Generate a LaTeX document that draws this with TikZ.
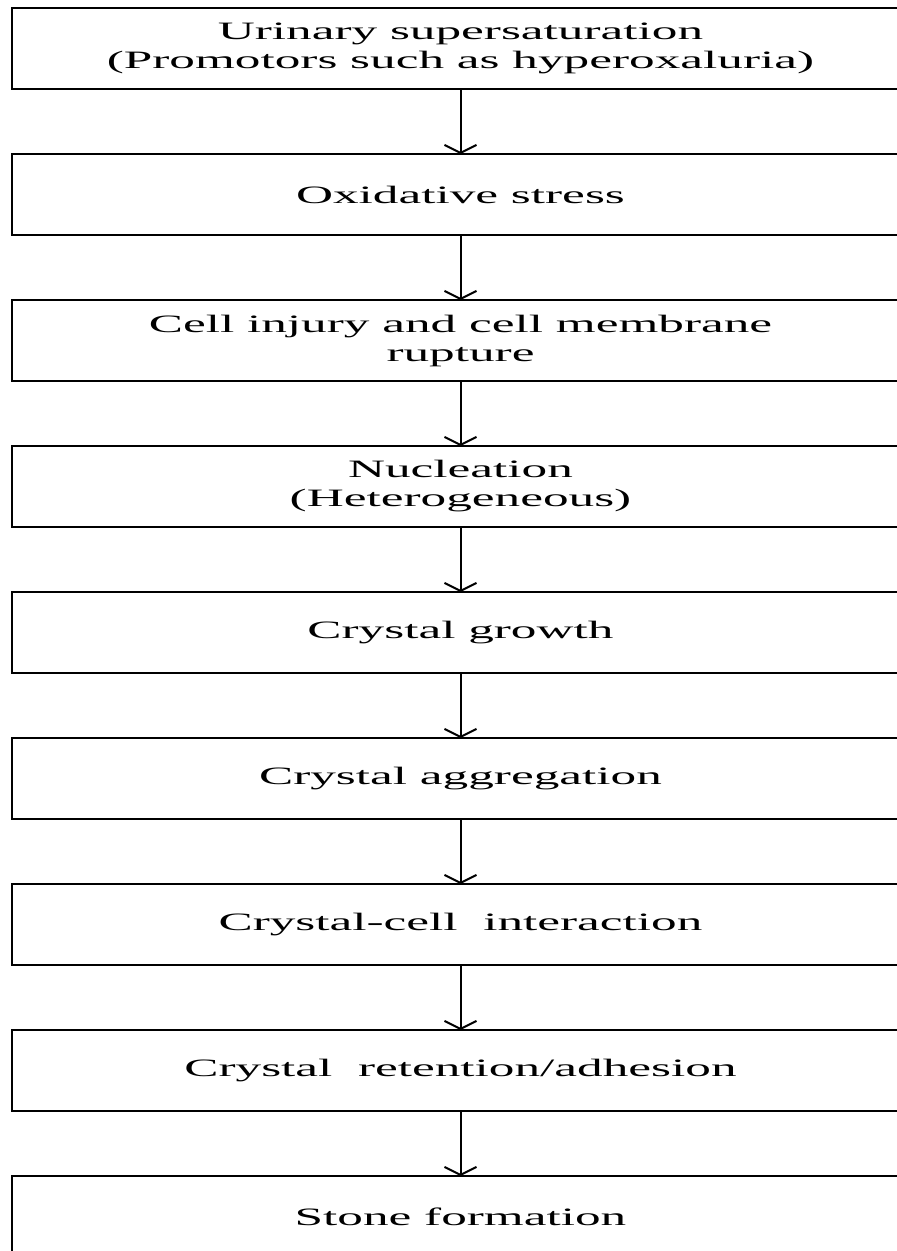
\documentclass[tikz,border=0pt]{standalone}
\usepackage{fontspec}
\setmainfont[FakeStretch=2.05]{Liberation Serif}
\usetikzlibrary{positioning,arrows.meta}

\begin{document}
\begin{tikzpicture}[x=1pt,y=1pt,>={Straight Barb[length=8pt,width=32pt]},
  stepbox/.style={draw,line width=2pt,outer sep=0pt,inner sep=0pt,
    minimum width=897pt,minimum height=81pt,align=center,
    font=\fontsize{25}{29}\selectfont},
  node distance=65pt]
  \useasboundingbox (0,0) rectangle (897,-1251);
  \clip (0,0) rectangle (897,-1251);
  \node[stepbox] (urine) at (460.5,-48.5) {Urinary supersaturation\\(Promotors such as hyperoxaluria)};
  \node[stepbox,below=of urine] (oxid) {Oxidative stress};
  \node[stepbox,below=of oxid] (injury) {Cell injury and cell membrane\\rupture};
  \node[stepbox,below=of injury] (nucl) {Nucleation\\(Heterogeneous)};
  \node[stepbox,below=of nucl] (growth) {Crystal growth};
  \node[stepbox,below=of growth] (aggr) {Crystal aggregation};
  \node[stepbox,below=of aggr] (inter) {Crystal-cell\ \ interaction};
  \node[stepbox,below=of inter] (reten) {Crystal\ \ retention/adhesion};
  \node[stepbox,below=of reten] (stone) {Stone formation};
  \draw[->,line width=2pt] (urine)--(oxid);
  \draw[->,line width=2pt] (oxid)--(injury);
  \draw[->,line width=2pt] (injury)--(nucl);
  \draw[->,line width=2pt] (nucl)--(growth);
  \draw[->,line width=2pt] (growth)--(aggr);
  \draw[->,line width=2pt] (aggr)--(inter);
  \draw[->,line width=2pt] (inter)--(reten);
  \draw[->,line width=2pt] (reten)--(stone);
\end{tikzpicture}
\end{document}
